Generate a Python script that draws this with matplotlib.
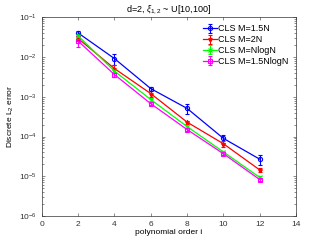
import numpy as np
import matplotlib.pyplot as plt

order = [2, 4, 6, 8, 10, 12]

err_15n = [4.0e-2, 9.1e-3, 1.6e-3, 5.1e-4, 9.0e-5, 2.7e-5]
err_2n = [2.9e-2, 5.1e-3, 1.2e-3, 2.3e-4, 6.6e-5, 1.45e-5]
err_nlogn = [3.4e-2, 4.4e-3, 8.5e-4, 1.78e-4, 4.1e-5, 9.4e-6]
err_15nlogn = [2.5e-2, 3.6e-3, 6.7e-4, 1.5e-4, 3.7e-5, 8.3e-6]

std_15n = [6e-3, 3e-3, 2e-4, 1.5e-4, 2e-5, 8e-6]
std_2n = [4e-3, 1.2e-3, 2e-4, 2e-5, 1.3e-5, 2e-6]
std_nlogn = [3e-3, 4e-4, 6e-5, 1.2e-5, 3e-6, 6e-7]
std_15nlogn = [7e-3, 4e-4, 6e-5, 1e-5, 3e-6, 6e-7]

labels = ['CLS M=1.5N', 'CLS M=2N', 'CLS M=NlogN', 'CLS M=1.5NlogN']
colors = ['#0000ff', '#ff0000', '#00ff00', '#ff00ff']
markers = ['o', '*', 'x', 's']

plt.rcParams['font.family'] = ['Liberation Sans', 'DejaVu Sans']
plt.rcParams['mathtext.fontset'] = 'custom'
plt.rcParams['mathtext.rm'] = 'Liberation Sans'
plt.rcParams['mathtext.it'] = 'Liberation Sans:italic'
plt.rcParams['font.size'] = 6.3

fig = plt.figure(figsize=(3.27, 2.45), dpi=100)
ax = fig.add_axes([0.128, 0.118, 0.777, 0.812])

series = [err_15n, err_2n, err_nlogn, err_15nlogn]
stds = [std_15n, std_2n, std_nlogn, std_15nlogn]
for y, s, c, m, lab in zip(series, stds, colors, markers, labels):
    ax.errorbar(order, y, yerr=s, color=c, marker=m, markersize=3, lw=0.9,
                elinewidth=0.8, capsize=1.5, mfc='none' if m in 'os' else c,
                markeredgewidth=0.8, label=lab)

ax.set_yscale('log')
ax.set_xlim(0, 14)
ax.set_ylim(1e-6, 1e-1)
ax.set_xticks(range(0, 15, 2))
ax.tick_params(which='both', direction='in', top=True, right=True,
               width=0.4, colors='#333333', labelsize=6)
ax.tick_params(which='major', length=2.5)
ax.tick_params(which='minor', length=1.3)
for sp in ax.spines.values():
    sp.set_linewidth(0.5)
    sp.set_color('#333333')

ax.set_xlabel('polynomial order i', fontsize=6, labelpad=1)
ax.set_ylabel('Discrete L$_2$ error', fontsize=6, labelpad=2)
ax.set_title(r'd=2, $\xi_{1,2}$ ~ U[10,100]', fontsize=6.5, pad=4)

ax.legend(loc='upper right', fontsize=6.5, frameon=False, handlelength=1.5,
          handletextpad=0.2, labelspacing=0.2, borderaxespad=0.4)

fig.savefig('out.png', dpi=100)
